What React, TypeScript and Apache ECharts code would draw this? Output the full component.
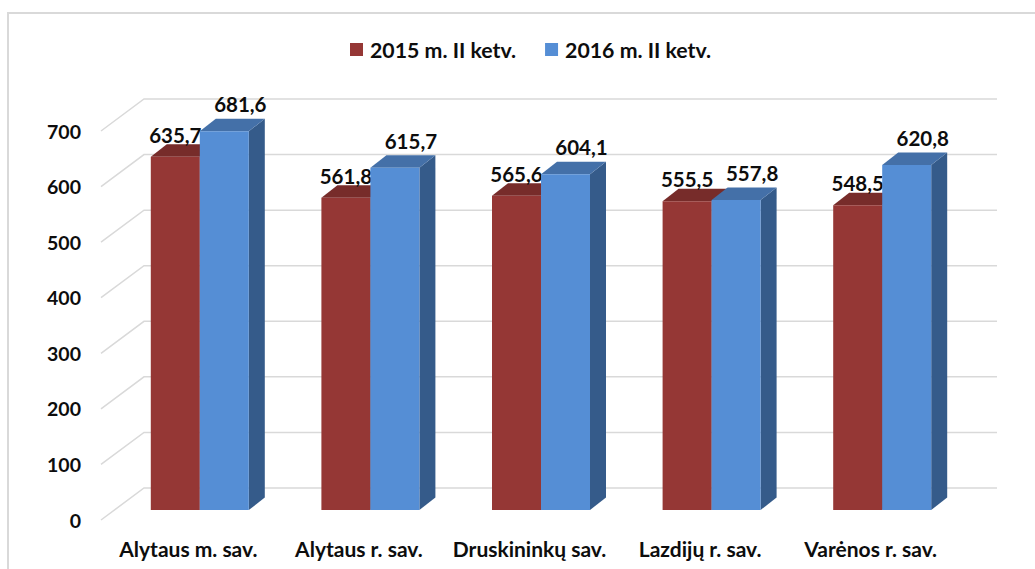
import React, { useEffect, useRef } from "react";
import * as echarts from "echarts";

const categories = ["Alytaus m. sav.", "Alytaus r. sav.", "Druskininkų sav.", "Lazdijų r. sav.", "Varėnos r. sav."];
const seriesNames = ["2015 m. II ketv.", "2016 m. II ketv."];
const values2015 = [635.7, 561.8, 565.6, 555.5, 548.5];
const values2016 = [681.6, 615.7, 604.1, 557.8, 620.8];
const gridTicks = [0, 100, 200, 300, 400, 500, 600, 700];

const FONT = "Lato";
const BAR_W = 49;
const OFF_X = 11.5;
const OFF_Y = -10;
const DEPTH_X = 16;
const DEPTH_Y = -12.5;
const WALL_X = 43;
const WALL_Y = -32;

function fmt(v: number) {
  return v.toFixed(1).replace(".", ",");
}

function barItem(slot: number, front: string, top: string, side: string, labelDx: number, labelDy: number) {
  return (params: any, api: any) => {
    const cat = api.value(0);
    const val = api.value(1);
    const base = api.coord([cat, 0]);
    const head = api.coord([cat, val]);
    const x0 = base[0] + OFF_X + (slot - 1) * BAR_W;
    const x1 = x0 + BAR_W;
    const yB = base[1] + OFF_Y;
    const yT = head[1] + OFF_Y;
    return {
      type: "group",
      children: [
        {
          type: "polygon",
          shape: { points: [[x1, yB], [x1 + DEPTH_X, yB + DEPTH_Y], [x1 + DEPTH_X, yT + DEPTH_Y], [x1, yT]] },
          style: { fill: side },
        },
        {
          type: "polygon",
          shape: { points: [[x0, yT], [x0 + DEPTH_X, yT + DEPTH_Y], [x1 + DEPTH_X, yT + DEPTH_Y], [x1, yT]] },
          style: { fill: top },
        },
        { type: "rect", shape: { x: x0, y: yT, width: BAR_W, height: yB - yT }, style: { fill: front } },
        {
          type: "text",
          x: x0 + BAR_W / 2 + labelDx,
          y: yT + labelDy,
          style: {
            text: fmt(val),
            fill: "#0d0d0d",
            font: `700 20.5px ${FONT}`,
            align: "center",
            verticalAlign: "middle",
          },
        },
      ],
    };
  };
}

export default function App() {
  const ref = useRef<HTMLDivElement>(null);
  useEffect(() => {
    const chart = echarts.init(ref.current!, undefined, { renderer: "svg" });
    chart.setOption({
      animation: false,
      backgroundColor: "#ffffff",
      graphic: [
        {
          type: "rect",
          z: -10,
          silent: true,
          shape: { x: 8, y: 13, width: 1200, height: 800 },
          style: { fill: "#ffffff", stroke: "#d9d9d9", lineWidth: 2 },
        },
      ],
      legend: {
        left: 345,
        top: 34,
        icon: "rect",
        itemWidth: 13,
        itemHeight: 13,
        itemGap: 29,
        data: seriesNames,
        selectedMode: false,
        textStyle: { fontFamily: FONT, fontWeight: 700, fontSize: 21.3, color: "#0d0d0d", padding: [0, 0, 0, 2] },
      },
      grid: { left: 103, top: 131, width: 853, height: 389 },
      xAxis: {
        type: "category",
        data: categories,
        axisLine: { show: false },
        axisTick: { show: false },
        axisLabel: {
          fontFamily: FONT,
          fontWeight: 700,
          fontSize: 21,
          color: "#0d0d0d",
          margin: 18,
          interval: 0,
        },
      },
      yAxis: {
        type: "value",
        min: 0,
        max: 700,
        interval: 100,
        axisLine: { show: false },
        axisTick: { show: false },
        splitLine: { show: false },
        axisLabel: { fontFamily: FONT, fontWeight: 700, fontSize: 19.5, color: "#0d0d0d", margin: 22 },
      },
      series: [
        {
          name: "walls",
          type: "custom",
          silent: true,
          z: 1,
          clip: false,
          data: gridTicks.map((t) => [0, t]),
          renderItem: (params: any, api: any) => {
            const p = api.coord([0, api.value(1)]);
            const left = params.coordSys.x - 2;
            const right = params.coordSys.x + params.coordSys.width + 41;
            const y = p[1];
            return {
              type: "polyline",
              shape: { points: [[left, y], [left + WALL_X, y + WALL_Y], [right, y + WALL_Y]] },
              style: { stroke: "#d9d9d9", lineWidth: 1.5, fill: "none" },
            };
          },
        },
        {
          name: seriesNames[0],
          type: "custom",
          silent: true,
          z: 2,
          clip: false,
          itemStyle: { color: "#953735" },
          data: values2015.map((v, i) => [i, v]),
          renderItem: barItem(0, "#953735", "#772c2a", "#632523", 0, -22),
        },
        {
          name: seriesNames[1],
          type: "custom",
          silent: true,
          z: 3,
          clip: false,
          itemStyle: { color: "#558ed5" },
          data: values2016.map((v, i) => [i, v]),
          renderItem: barItem(1, "#558ed5", "#4470a8", "#355b8a", 16, -27),
        },
      ],
    });
    return () => chart.dispose();
  }, []);
  return <div ref={ref} style={{ position: "absolute", left: 0, top: 0, width: 1035, height: 569 }} />;
}
